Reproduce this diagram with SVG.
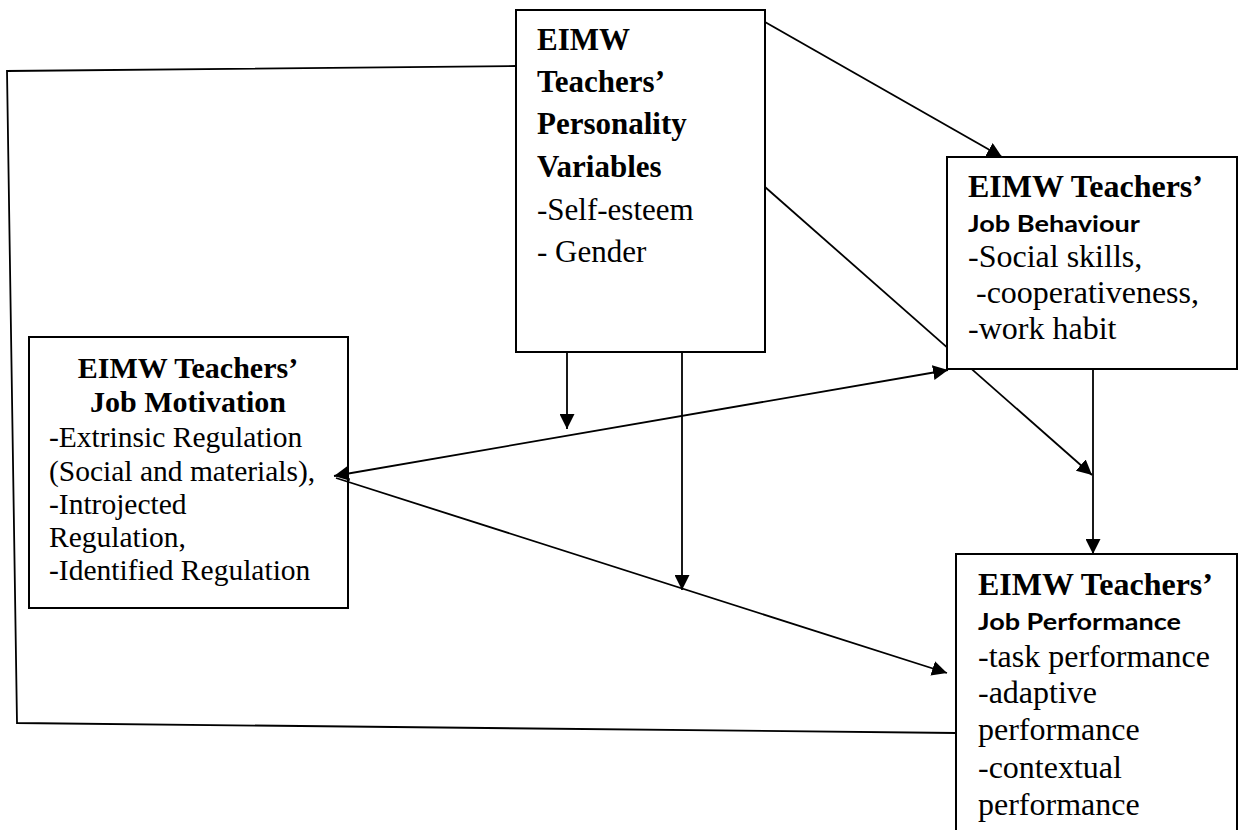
<svg xmlns="http://www.w3.org/2000/svg" width="1240" height="830" viewBox="0 0 1240 830">
<defs>
<marker id="ah" markerUnits="userSpaceOnUse" viewBox="0 0 15 15" refX="15" refY="7.5" markerWidth="15" markerHeight="15" orient="auto-start-reverse">
<path d="M0,0 L15,7.5 L0,15 z" fill="#000"/>
</marker>
<style>
.box{fill:#fff;stroke:#000;stroke-width:2}
.boxn{fill:none;stroke:#000;stroke-width:2}
.ln{fill:none;stroke:#000;stroke-width:1.8}
.arr{fill:none;stroke:#000;stroke-width:1.8;marker-end:url(#ah)}
.bi{fill:none;stroke:#000;stroke-width:1.8;marker-start:url(#ah);marker-end:url(#ah)}
.t{font-family:"Liberation Serif","Times New Roman",serif;fill:#000}
.b{font-weight:bold}
.s{font-family:Lato,"Open Sans","Liberation Sans",sans-serif;font-weight:bold;fill:#000}
</style>
</defs>
<rect width="1240" height="830" fill="#fff"/>

<g id="node-motivation">
<rect class="boxn" x="29" y="337" width="319" height="271"/>
<text class="t b" x="188" y="378" font-size="30" text-anchor="middle">EIMW Teachers’</text>
<text class="t b" x="188" y="412" font-size="30" text-anchor="middle">Job Motivation</text>
<text class="t" font-size="29.5"><tspan x="49" y="447">-Extrinsic Regulation</tspan><tspan x="49" y="481">(Social and materials),</tspan><tspan x="49" y="514">-Introjected</tspan><tspan x="49" y="547">Regulation,</tspan><tspan x="49" y="580">-Identified Regulation</tspan></text>
</g>

<g id="node-personality">
<rect class="boxn" x="516" y="10" width="249" height="342"/>
<text class="t b" font-size="31"><tspan x="537" y="50">EIMW</tspan><tspan x="537" y="92">Teachers’</tspan><tspan x="537" y="134">Personality</tspan><tspan x="537" y="177">Variables</tspan></text>
<text class="t" font-size="31"><tspan x="537" y="220">-Self-esteem</tspan><tspan x="537" y="262">- Gender</tspan></text>
</g>

<g id="node-performance">
<rect class="boxn" x="956" y="554" width="281" height="290"/>
<text class="t b" x="978" y="595" font-size="32">EIMW Teachers’</text>
<text class="s" x="978" y="630" font-size="23" textLength="203" lengthAdjust="spacingAndGlyphs">Job Performance</text>
<text class="t" font-size="32"><tspan x="978" y="667">-task performance</tspan><tspan x="978" y="703">-adaptive</tspan><tspan x="978" y="740">performance</tspan><tspan x="978" y="778">-contextual</tspan><tspan x="978" y="815">performance</tspan></text>
</g>

<g id="connectors">
<polyline class="ln" points="516,66 7,71 17,723 956,733"/>
<line class="arr" x1="765" y1="22" x2="1002" y2="157"/>
<line class="arr" x1="765" y1="187" x2="1092" y2="475"/>
<line class="arr" x1="1093" y1="370" x2="1093" y2="554"/>
<line class="bi" x1="334" y1="476" x2="948" y2="370"/>
<line class="arr" x1="336" y1="478" x2="947" y2="673"/>
<line class="arr" x1="567" y1="352" x2="567" y2="429"/>
<line class="arr" x1="682" y1="352" x2="682" y2="590"/>
</g>

<g id="node-behaviour">
<rect class="box" x="947" y="157" width="290" height="212"/>
<text class="t b" x="968" y="197" font-size="32">EIMW Teachers’</text>
<text class="s" x="968" y="232" font-size="23" textLength="172" lengthAdjust="spacingAndGlyphs">Job Behaviour</text>
<text class="t" font-size="32"><tspan x="968" y="267">-Social skills,</tspan><tspan x="968" y="303"> -cooperativeness,</tspan><tspan x="968" y="339">-work habit</tspan></text>
</g>
</svg>
